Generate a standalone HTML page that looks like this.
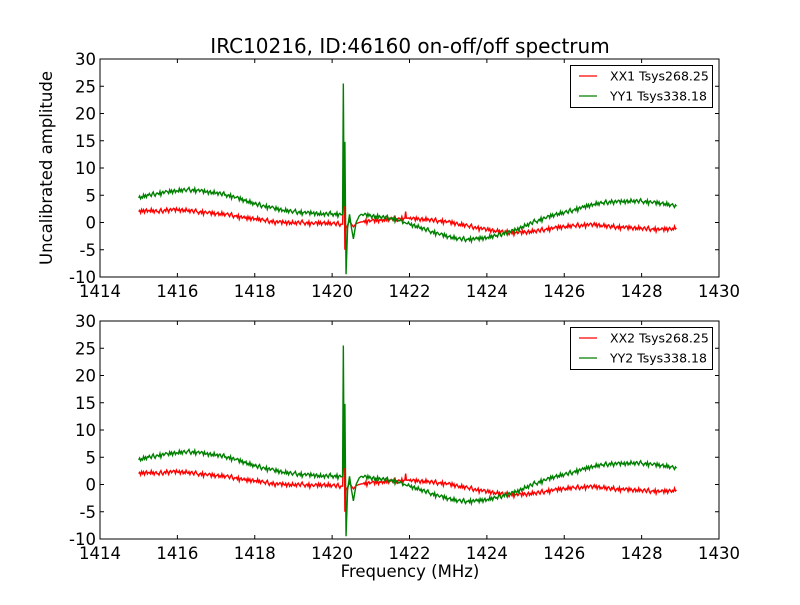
<!DOCTYPE html>
<html><head><meta charset="utf-8"><style>
body{margin:0;background:#fff;}
svg text{font-family:"DejaVu Sans","Liberation Sans",sans-serif;fill:#000;}
</style></head><body>
<svg id="chart" width="800" height="600" xmlns="http://www.w3.org/2000/svg">
<rect width="800" height="600" fill="#fff"/>
<text x="410" y="53" font-size="20" text-anchor="middle">IRC10216, ID:46160 on-off/off spectrum</text>
<text transform="translate(52,168) rotate(-90)" font-size="16.5" text-anchor="middle">Uncalibrated amplitude</text>
<text x="410" y="577" font-size="16.5" text-anchor="middle">Frequency (MHz)</text>
</svg>
<script>
const xTicks=[1414,1416,1418,1420,1422,1424,1426,1428,1430];
const yTicks=[-10,-5,0,5,10,15,20,25,30];
const freqs=[1415,1415.25,1415.5,1415.75,1416,1416.25,1416.5,1416.75,1417,1417.25,1417.5,1417.75,1418,1418.25,1418.5,1418.75,1419,1419.25,1419.5,1419.75,1420,1420.25,1420.27,1420.29,1420.31,1420.33,1420.36,1420.4,1420.45,1420.5,1420.55,1420.62,1420.7,1420.75,1421,1421.25,1421.5,1421.75,1421.88,1421.9,1421.92,1422,1422.25,1422.5,1422.75,1423,1423.25,1423.5,1423.75,1424,1424.25,1424.5,1424.75,1425,1425.25,1425.5,1425.75,1426,1426.25,1426.5,1426.75,1427,1427.25,1427.5,1427.75,1428,1428.25,1428.5,1428.75,1428.9];
const xxValues=[2.0,2.2,2.0,2.3,2.3,2.2,2.0,1.8,1.6,1.5,1.2,0.8,0.7,0.4,0.1,0.0,-0.1,0.0,-0.2,-0.1,-0.2,-0.3,-0.3,4,10.5,-5,-1,-0.5,0.3,-0.3,-0.8,-0.2,0,0.1,0.3,0.4,0.6,0.7,0.8,2.0,0.8,0.7,0.6,0.5,0.3,0.1,-0.3,-0.6,-1.0,-1.3,-1.6,-1.8,-1.9,-1.8,-1.6,-1.3,-1.0,-0.8,-0.6,-0.5,-0.4,-0.6,-0.8,-0.9,-1.0,-1.1,-1.2,-1.3,-1.2,-1.0];
const yyValues=[4.5,5.0,5.3,5.6,5.8,6.0,5.9,5.6,5.4,5.1,4.6,4.0,3.4,3.0,2.6,2.2,2.0,1.8,1.7,1.5,1.6,1.4,1.5,25.5,3,14.8,-9.5,-1,1.5,-1,-3,0,1.2,1.5,1.2,1.0,0.8,0.3,0.0,-0.1,-0.2,-0.3,-0.9,-1.5,-2.1,-2.6,-3.0,-3.1,-3.0,-2.8,-2.4,-1.9,-1.4,-0.6,0.2,0.8,1.4,1.8,2.3,2.8,3.3,3.6,3.8,3.8,3.9,3.9,3.7,3.5,3.2,3.0];
const jitter=[0.2,-0.3,0.35,-0.1,0.25,-0.35,0.1,0.3,-0.25,0.05,-0.2,0.4,-0.15,0.2,-0.3,0.15,0.3,-0.05,-0.3,0.2,0.45,-0.1,-0.4,0.0,0.15,-0.2,0.35,-0.45,0.1,0.25,-0.15,0.05,0.3];
const legendLabels=[["XX1 Tsys268.25","YY1 Tsys338.18"],["XX2 Tsys268.25","YY2 Tsys338.18"]];
const NS="http://www.w3.org/2000/svg";
const svg=document.getElementById('chart');
const X0=100,X1=719;
function xs(v){return X0+(v-1414)/(1430-1414)*(X1-X0);}
function mk(t,a,p){const e=document.createElementNS(NS,t);for(const k in a)e.setAttribute(k,a[k]);(p||svg).appendChild(e);return e;}
function series(vals,off){
  let pts=[],j=off;
  for(let i=0;i<freqs.length-1;i++){
    const f0=freqs[i],f1=freqs[i+1],v0=vals[i],v1=vals[i+1];
    const n=Math.max(1,Math.round((f1-f0)/0.025));
    for(let k=0;k<n;k++){
      const f=f0+(f1-f0)*k/n,v=v0+(v1-v0)*k/n;
      const spike=(f>1420.22&&f<1420.8)||(f>1421.85&&f<1421.95);
      pts.push([f,v+(spike||k===0?0:jitter[(j++)%jitter.length])]);
    }
  }
  pts.push([freqs[freqs.length-1],vals[vals.length-1]]);
  return pts;
}
function panel(top,idx){
  const bot=top+218;
  const ys=v=>top+(30-v)/40*(bot-top);
  const g=mk('g',{});
  
  
  const clip=mk('clipPath',{id:'c'+idx},g);mk('rect',{x:X0,y:top,width:X1-X0,height:bot-top},clip);
  [[xxValues,'#ff0000','xx',0],[yyValues,'#008000','yy',7]].forEach(([vals,col,nm,off])=>{
    const d=series(vals,off).map((p,i)=>(i?'L':'M')+xs(p[0]).toFixed(2)+' '+ys(p[1]).toFixed(2)).join('');
    const path=mk('path',{d:d,fill:'none',stroke:col,'stroke-width':1.4,'clip-path':'url(#c'+idx+')'},g);
    
    
  });
  const frame=mk('rect',{x:X0,y:top,width:X1-X0,height:bot-top,fill:'none',stroke:'#000','stroke-width':1},g);
  
  
  xTicks.forEach(t=>{const x=xs(t);
    mk('line',{x1:x,x2:x,y1:bot,y2:bot-4,stroke:'#000'},g);
    mk('line',{x1:x,x2:x,y1:top,y2:top+4,stroke:'#000'},g);
    const tx=mk('text',{x:x,y:bot+20,'font-size':16.5,'text-anchor':'middle'},g);tx.textContent=t;
    
    
  });
  yTicks.forEach(t=>{const y=ys(t);
    mk('line',{x1:X0,x2:X0+4,y1:y,y2:y,stroke:'#000'},g);
    mk('line',{x1:X1,x2:X1-4,y1:y,y2:y,stroke:'#000'},g);
    const tx=mk('text',{x:X0-4,y:y+6,'font-size':16.5,'text-anchor':'end'},g);tx.textContent=t;
    
    
  });
  const lg=mk('g',{},g);
  
  
  mk('rect',{x:570.5,y:top+6.5,width:142,height:42,fill:'#fff',stroke:'#000','stroke-width':1},lg);
  ['#ff0000','#008000'].forEach((c,i)=>{
    const y=top+17+i*20;
    mk('line',{x1:579,x2:597,y1:y,y2:y,stroke:c,'stroke-width':1.3},lg);
    const tx=mk('text',{x:610,y:y+4.5,'font-size':12.5},lg);tx.textContent=legendLabels[idx][i];
    
    
  });
}
panel(59,0);
panel(321,1);
</script>
</body></html>
